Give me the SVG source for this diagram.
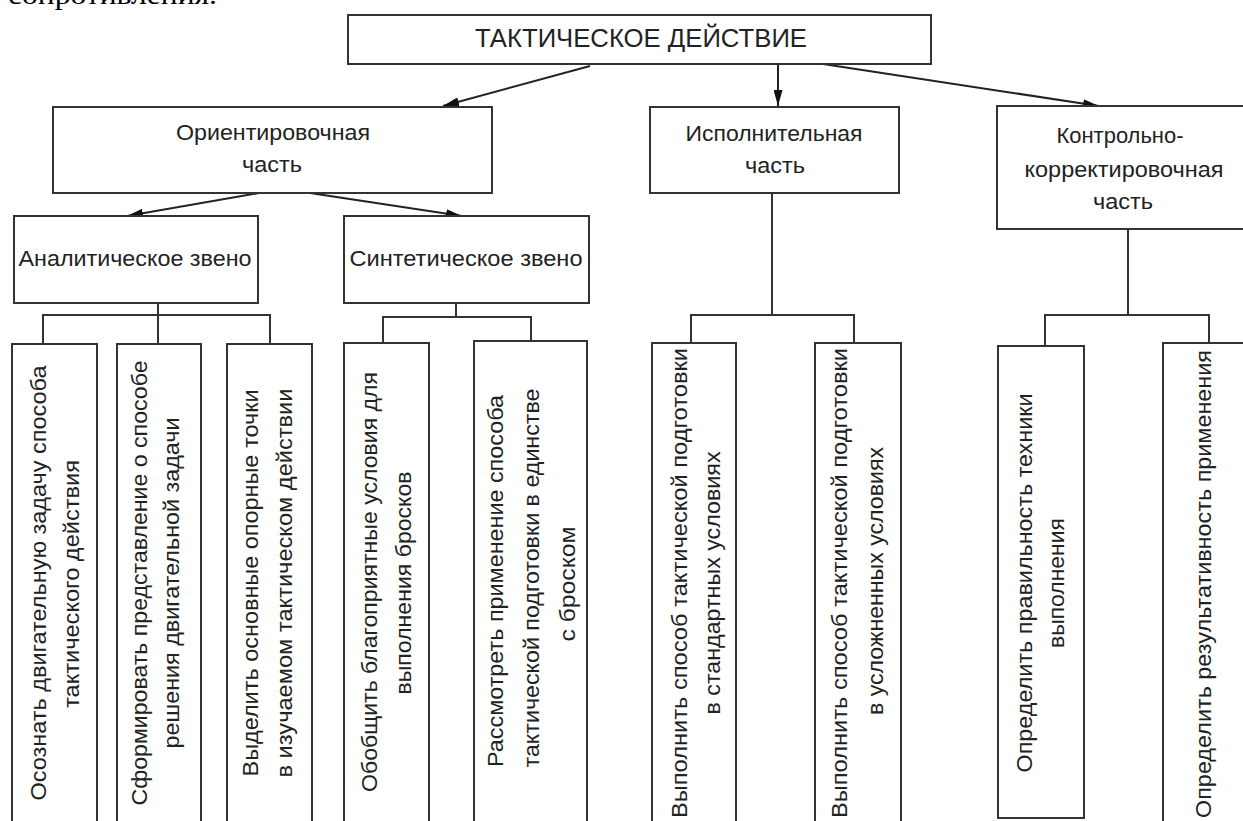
<svg xmlns="http://www.w3.org/2000/svg" width="1243" height="821" viewBox="0 0 1243 821">
<defs>
<style>
.box{fill:#fff;stroke:#333;stroke-width:2}
.t{font-family:"Liberation Sans",Arial,sans-serif;font-size:22px;fill:#222;text-anchor:middle}
.tt{font-family:"Liberation Sans",Arial,sans-serif;font-size:25px;fill:#222;text-anchor:middle}
.ln{fill:none;stroke:#333;stroke-width:2}
.ar{fill:none;stroke:#222;stroke-width:2;marker-end:url(#ah)}
.ser{font-family:"Liberation Serif","Times New Roman",serif;font-size:28px;fill:#000}
</style>
<marker id="ah" viewBox="0 0 16 9" refX="16" refY="4.5" markerWidth="16" markerHeight="9" markerUnits="userSpaceOnUse" orient="auto">
<path d="M0,0 L16,4.5 L0,9 z" fill="#111"/>
</marker>
</defs>
<rect width="1243" height="821" fill="#fff"/>
<text class="ser" x="8" y="4" textLength="209" lengthAdjust="spacingAndGlyphs">сопротивления.</text>

<g id="connectors">
<line class="ar" x1="590" y1="66" x2="443" y2="106"/>
<line class="ar" x1="778" y1="64" x2="778" y2="106"/>
<line class="ar" x1="823" y1="64" x2="1099" y2="106"/>
<line class="ar" x1="259" y1="193" x2="127" y2="216"/>
<line class="ar" x1="310" y1="193" x2="462" y2="216"/>
<path class="ln" d="M158,303 V315 M43,344 V315 H270 V344 M158,315 V344"/>
<path class="ln" d="M456,303 V317 M383,343 V317 H531 V341"/>
<path class="ln" d="M772,193 V315 M691,343 V315 H854 V343"/>
<path class="ln" d="M1128,229 V315 M1045,346 V315 H1209 V343"/>
</g>

<g id="n-root">
<rect class="box" x="348" y="15" width="583" height="49"/>
<text class="tt" x="641" y="47" textLength="332" lengthAdjust="spacingAndGlyphs">ТАКТИЧЕСКОЕ ДЕЙСТВИЕ</text>
</g>
<g id="n-orient">
<rect class="box" x="53" y="107" width="439" height="86"/>
<text class="t" x="273" y="140" textLength="194" lengthAdjust="spacingAndGlyphs">Ориентировочная</text>
<text class="t" x="272" y="172" textLength="60" lengthAdjust="spacingAndGlyphs">часть</text>
</g>
<g id="n-exec">
<rect class="box" x="650" y="107" width="249" height="86"/>
<text class="t" x="774" y="141" textLength="177" lengthAdjust="spacingAndGlyphs">Исполнительная</text>
<text class="t" x="775" y="173" textLength="60" lengthAdjust="spacingAndGlyphs">часть</text>
</g>
<g id="n-control">
<rect class="box" x="997" y="106" width="256" height="123"/>
<text class="t" x="1120" y="143" textLength="127" lengthAdjust="spacingAndGlyphs">Контрольно-</text>
<text class="t" x="1124" y="177" textLength="199" lengthAdjust="spacingAndGlyphs">корректировочная</text>
<text class="t" x="1123" y="209" textLength="60" lengthAdjust="spacingAndGlyphs">часть</text>
</g>
<g id="n-anal">
<rect class="box" x="14" y="216" width="244" height="87"/>
<text class="t" x="135" y="266" textLength="233" lengthAdjust="spacingAndGlyphs">Аналитическое звено</text>
</g>
<g id="n-synth">
<rect class="box" x="344" y="216" width="245" height="87"/>
<text class="t" x="466" y="266" textLength="233" lengthAdjust="spacingAndGlyphs">Синтетическое звено</text>
</g>

<g id="leaf-1">
<rect class="box" x="12" y="344" width="85" height="500"/>
<text class="t" transform="translate(0,583) rotate(-90)"><tspan x="0" y="46" textLength="435" lengthAdjust="spacingAndGlyphs">Осознать двигательную задачу способа</tspan><tspan x="-1" y="79" textLength="248" lengthAdjust="spacingAndGlyphs">тактического действия</tspan></text>
</g>
<g id="leaf-2">
<rect class="box" x="117" y="344" width="84" height="500"/>
<text class="t" transform="translate(0,583) rotate(-90)"><tspan x="0" y="147" textLength="445" lengthAdjust="spacingAndGlyphs">Сформировать представление о способе</tspan><tspan x="0" y="179" textLength="331" lengthAdjust="spacingAndGlyphs">решения двигательной задачи</tspan></text>
</g>
<g id="leaf-3">
<rect class="box" x="227" y="344" width="85" height="500"/>
<text class="t" transform="translate(0,583) rotate(-90)"><tspan x="0" y="258" textLength="387" lengthAdjust="spacingAndGlyphs">Выделить основные опорные точки</tspan><tspan x="0" y="292" textLength="389" lengthAdjust="spacingAndGlyphs">в изучаемом тактическом действии</tspan></text>
</g>
<g id="leaf-4">
<rect class="box" x="344" y="343" width="85" height="500"/>
<text class="t" transform="translate(0,583) rotate(-90)"><tspan x="1" y="377" textLength="420" lengthAdjust="spacingAndGlyphs">Обобщить благоприятные условия для</tspan><tspan x="0" y="411" textLength="223" lengthAdjust="spacingAndGlyphs">выполнения бросков</tspan></text>
</g>
<g id="leaf-5">
<rect class="box" x="474" y="341" width="113" height="500"/>
<text class="t" transform="translate(0,583) rotate(-90)"><tspan x="2" y="503" textLength="372" lengthAdjust="spacingAndGlyphs">Рассмотреть применение способа</tspan><tspan x="5" y="539" textLength="379" lengthAdjust="spacingAndGlyphs">тактической подготовки в единстве</tspan><tspan x="-1" y="575" textLength="115" lengthAdjust="spacingAndGlyphs">с броском</tspan></text>
</g>
<g id="leaf-6">
<rect class="box" x="652" y="343" width="84" height="500"/>
<text class="t" transform="translate(0,583) rotate(-90)"><tspan x="0" y="687" textLength="470" lengthAdjust="spacingAndGlyphs">Выполнить способ тактической подготовки</tspan><tspan x="0" y="720" textLength="263" lengthAdjust="spacingAndGlyphs">в стандартных условиях</tspan></text>
</g>
<g id="leaf-7">
<rect class="box" x="815" y="343" width="86" height="500"/>
<text class="t" transform="translate(0,583) rotate(-90)"><tspan x="0" y="847" textLength="470" lengthAdjust="spacingAndGlyphs">Выполнить способ тактической подготовки</tspan><tspan x="2" y="883" textLength="268" lengthAdjust="spacingAndGlyphs">в усложненных условиях</tspan></text>
</g>
<g id="leaf-8">
<rect class="box" x="998" y="346" width="86" height="472"/>
<text class="t" transform="translate(0,583) rotate(-90)"><tspan x="0" y="1032" textLength="379" lengthAdjust="spacingAndGlyphs">Определить правильность техники</tspan><tspan x="0" y="1064" textLength="130" lengthAdjust="spacingAndGlyphs">выполнения</tspan></text>
</g>
<g id="leaf-9">
<rect class="box" x="1163" y="343" width="100" height="500"/>
<text class="t" transform="translate(0,583) rotate(-90)"><tspan x="-1" y="1211" textLength="468" lengthAdjust="spacingAndGlyphs">Определить результативность применения</tspan></text>
</g>
</svg>
